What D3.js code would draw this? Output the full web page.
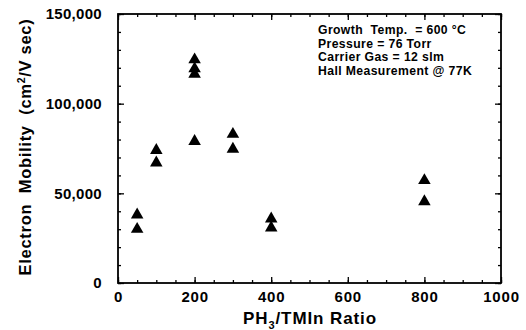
<!DOCTYPE html>
<html>
<head>
<meta charset="utf-8">
<script src="https://cdn.jsdelivr.net/npm/d3@7"></script>
<style>
  body { margin: 0; background: #fff; }
  svg text { font-family: "Liberation Sans", Arial, sans-serif; font-weight: bold; fill: #000; white-space: pre; }
</style>
</head>
<body>
<div id="chart"></div>
<script>
// PH3/TMIn ratio vs 77K electron mobility
const ratio = [50, 50, 100, 100, 200, 200, 200, 200, 300, 300, 400, 400, 800, 800];
const mobility = [38000, 30000, 74000, 67000, 124500, 119500, 116500, 79000, 83000, 74700, 35800, 30800, 57200, 45400];

const xTicks = [0, 200, 400, 600, 800, 1000];
const yTicks = [0, 50000, 100000, 150000];

const notes = [
  'Growth  Temp.  = 600 °C',
  'Pressure = 76 Torr',
  'Carrier Gas = 12 slm',
  'Hall Measurement @ 77K'
];

const W = 526, H = 330;
const margin = { top: 14, right: 25, bottom: 47, left: 118 };
const width = W - margin.left - margin.right;
const height = H - margin.top - margin.bottom;

const svg = d3.select('#chart').append('svg')
  .attr('width', W)
  .attr('height', H);

const g = svg.append('g')
  .attr('transform', `translate(${margin.left},${margin.top})`);

const x = d3.scaleLinear().domain([0, 1000]).range([0, width]);
const y = d3.scaleLinear().domain([0, 150000]).range([height, 0]);

const fmt = d3.format(',');

// minor ticks first (inward on all four sides)
const xMinor = d3.range(0, 1001, 50);
const yMinor = d3.range(0, 150001, 10000);

g.append('g').attr('transform', `translate(0,${height})`)
  .call(d3.axisBottom(x).tickValues(xMinor).tickSize(-3).tickFormat(''));
g.append('g')
  .call(d3.axisTop(x).tickValues(xMinor).tickSize(-3).tickFormat(''));
g.append('g')
  .call(d3.axisLeft(y).tickValues(yMinor).tickSize(-3).tickFormat(''));
g.append('g').attr('transform', `translate(${width},0)`)
  .call(d3.axisRight(y).tickValues(yMinor).tickSize(-3).tickFormat(''));

// major ticks
const xAxis = g.append('g').attr('transform', `translate(0,${height})`)
  .call(d3.axisBottom(x).tickValues(xTicks).tickSizeInner(-6).tickSizeOuter(0).tickPadding(8).tickFormat(d => d));
g.append('g')
  .call(d3.axisTop(x).tickValues(xTicks).tickSizeInner(-6).tickSizeOuter(0).tickFormat(''));
const yAxis = g.append('g')
  .call(d3.axisLeft(y).tickValues(yTicks).tickSizeInner(-6).tickSizeOuter(0).tickPadding(16).tickFormat(fmt));
g.append('g').attr('transform', `translate(${width},0)`)
  .call(d3.axisRight(y).tickValues(yTicks).tickSizeInner(-6).tickSizeOuter(0).tickFormat(''));

g.selectAll('.domain').remove();
g.selectAll('.tick line').attr('stroke', '#000').attr('stroke-width', 1.3);

xAxis.selectAll('text')
  .style('font-size', '15px')
  .style('letter-spacing', '0.8px');
yAxis.selectAll('text')
  .style('font-size', '15px')
  .style('letter-spacing', '0.3px');

// frame
g.append('rect')
  .attr('width', width)
  .attr('height', height)
  .attr('fill', 'none')
  .attr('stroke', '#000')
  .attr('stroke-width', 1.8);

// markers
g.selectAll('.pt')
  .data(ratio.map((r, i) => ({ r, m: mobility[i] })))
  .enter().append('path')
  .attr('class', 'pt')
  .attr('d', d3.symbol(d3.symbolTriangle, 68))
  .attr('transform', d => `translate(${x(d.r)},${y(d.m)})`)
  .attr('fill', '#000');

// annotation
const note = g.append('text')
  .attr('x', 200)
  .attr('y', 20)
  .style('font-size', '12.2px')
  .style('letter-spacing', '0.4px');
note.selectAll('tspan')
  .data(notes)
  .enter().append('tspan')
  .attr('x', 200)
  .attr('dy', (d, i) => i === 0 ? 0 : 13.5)
  .text(d => d);

// axis titles
const xTitle = svg.append('text')
  .attr('x', 310)
  .attr('y', 324)
  .attr('text-anchor', 'middle')
  .style('font-size', '17px')
  .style('letter-spacing', '0.9px');
xTitle.append('tspan').text('PH');
xTitle.append('tspan').attr('dy', 5).style('font-size', '11px').text('3');
xTitle.append('tspan').attr('dy', -5).text('/TMIn Ratio');

const yTitle = svg.append('text')
  .attr('transform', 'translate(31,147) rotate(-90)')
  .attr('text-anchor', 'middle')
  .style('font-size', '16.5px')
  .style('letter-spacing', '0.7px');
yTitle.append('tspan').text('Electron  Mobility  (cm');
yTitle.append('tspan').attr('dy', -6).style('font-size', '10.5px').text('2');
yTitle.append('tspan').attr('dy', 6).text('/V sec)');
</script>
</body>
</html>
